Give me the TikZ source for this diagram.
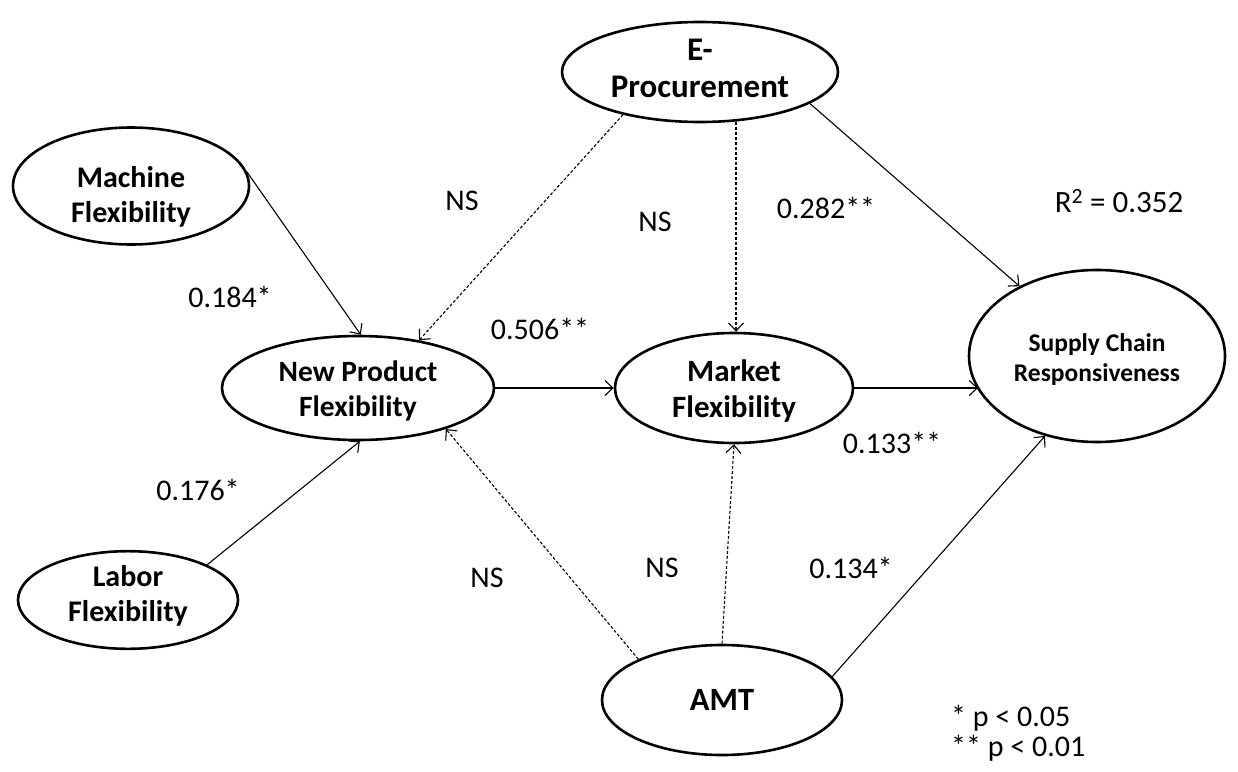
\documentclass[tikz,border=0pt]{standalone}
\usepackage{fontspec}
\setmainfont{Carlito}
\usetikzlibrary{shapes.geometric,arrows.meta}
\begin{document}
\begin{tikzpicture}[x=1pt,y=-1pt,
  latent/.style={draw,ellipse,line width=2.6pt,inner sep=0pt,align=center,font=\bfseries\fontsize{30}{35}\selectfont},
  lbl/.style={inner sep=0pt,font=\fontsize{30}{35}\selectfont},
  path/.style={line width=1.1pt,-{Straight Barb[length=8pt,width=15pt]}},
  ns/.style={path,dash pattern=on 3pt off 2pt}]
\useasboundingbox (0,0) rectangle (1238,771);
% latent variables
\node[latent,minimum width=276pt,minimum height=100pt,font=\bfseries\fontsize{33}{37}\selectfont] (ep) at (700,72) {E-\\Procurement\rule[-8pt]{0pt}{1pt}};
\node[latent,minimum width=236pt,minimum height=92pt] (mach) at (131,186) {\rule{0pt}{43pt}Machine\\Flexibility};
\node[latent,minimum width=272pt,minimum height=104pt,font=\bfseries\fontsize{29.5}{35}\selectfont] (npf) at (358,388) {\rule{0pt}{27pt}New Product\\Flexibility};
\node[latent,minimum width=238pt,minimum height=110pt,font=\bfseries\fontsize{31}{36}\selectfont] (mf) at (734,388) {\rule{0pt}{28pt}Market\\Flexibility};
\node[latent,minimum width=256pt,minimum height=172pt,font=\bfseries\fontsize{25.5}{30}\selectfont] (scr) at (1097,356) {\rule{0pt}{24pt}Supply Chain\\Responsiveness};
\node[latent,minimum width=220pt,minimum height=92pt] (labor) at (128,600) {Labor\\Flexibility\rule[-13pt]{0pt}{1pt}};
\node[latent,minimum width=240pt,minimum height=110pt,font=\bfseries\fontsize{32.5}{36}\selectfont] (amt) at (722,700) {AMT};
% paths
\draw[path] (mach.7) -- (npf.87);
\draw[path] (labor.24) -- (npf.-88);
\draw[ns] (ep.209) -- (npf.38);
\draw[ns] (ep.-54.5) -- (ep.-54.5 |- mf.north);
\draw[path] (ep.-16) -- (scr.138.6);
\draw[path] (npf.east) -- (mf.west);
\draw[path] (mf.east) -- (mf.east -| scr.196);
\draw[ns] (amt.154.5) -- (npf.-25);
\draw[ns] (amt.north) -- (mf.south);
\draw[path] (amt.12.7) -- (scr.237);
% coefficients
\node[lbl] (l1) at (462,201) {NS};
\node[lbl] (l2) at (655,222) {NS};
\node[lbl] (l3) at (826,208) {0.282**};
\node[lbl,font=\fontsize{31}{35}\selectfont] (r2) at (1119,201) {R\textsuperscript{2} = 0.352};
\node[lbl] (l4) at (230,297) {0.184*};
\node[lbl] (l5) at (540,329) {0.506**};
\node[lbl] (l6) at (892,443) {0.133**};
\node[lbl] (l7) at (198,490) {0.176*};
\node[lbl] (l8) at (487,578) {NS};
\node[lbl] (l9) at (662,568) {NS};
\node[lbl] (l10) at (851,568) {0.134*};
\node[lbl,anchor=base west,font=\fontsize{30}{34}\selectfont] (p1) at (951,726) {* p < 0.05};
\node[lbl,anchor=base west,font=\fontsize{30}{34}\selectfont] (p2) at (951,756) {** p < 0.01};
\end{tikzpicture}
\end{document}
